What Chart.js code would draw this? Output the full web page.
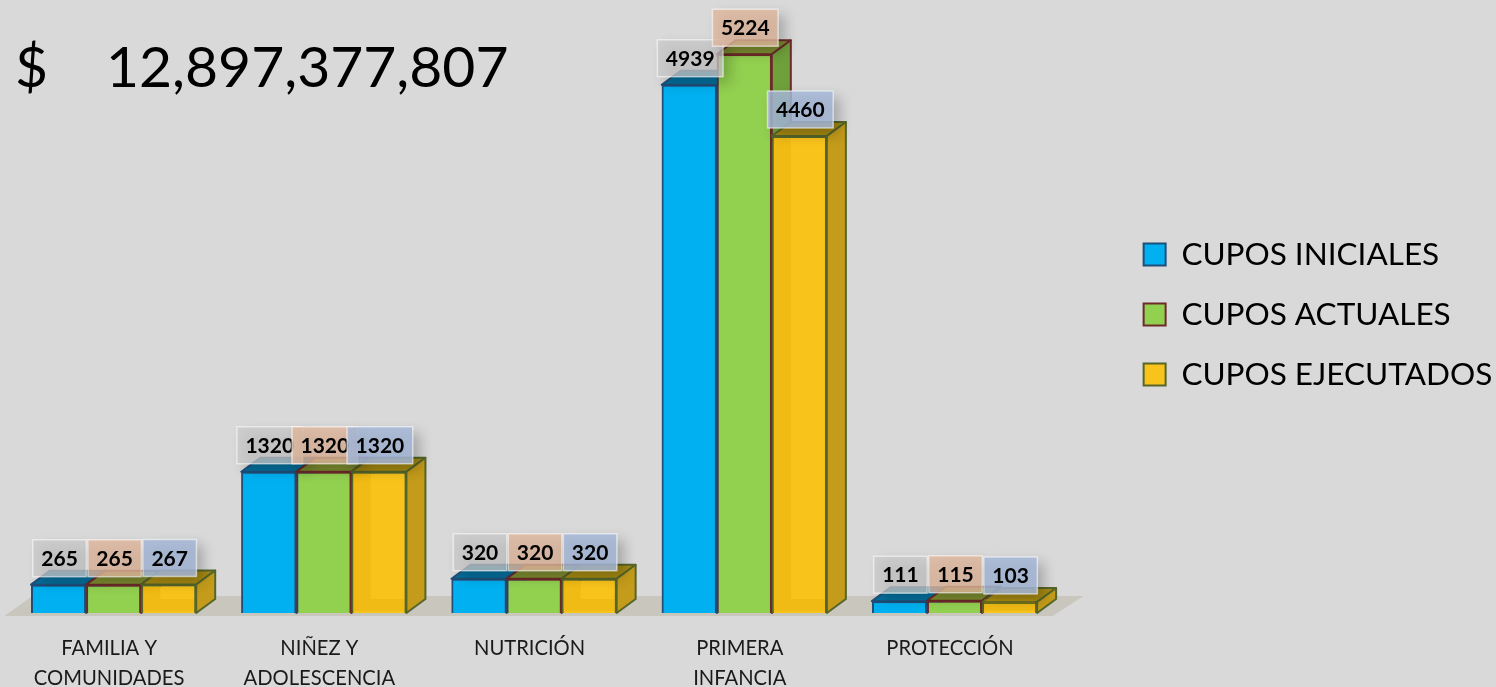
<!DOCTYPE html>
<html>
<head>
<meta charset="utf-8">
<title>Cupos</title>
<script src="https://cdn.jsdelivr.net/npm/chart.js@4"></script>
<style>
    html, body { margin: 0; padding: 0; background: #d9d9d9; overflow: hidden; }
    canvas { display: block; }
</style>
</head>
<body>
<canvas id="cuposChart" width="1496" height="687"></canvas>
<script>
const categories = [['FAMILIA Y', 'COMUNIDADES'], ['NIÑEZ Y', 'ADOLESCENCIA'], 'NUTRICIÓN', ['PRIMERA', 'INFANCIA'], 'PROTECCIÓN'];
const cuposIniciales = [265, 1320, 320, 4939, 111];
const cuposActuales = [265, 1320, 320, 5224, 115];
const cuposEjecutados = [267, 1320, 320, 4460, 103];
const totalCurrency = '$';
const totalAmount = '12,897,377,807';

const FONT = 'Lato, Carlito, sans-serif';
const DEPTH_X = 19;
const DEPTH_Y = 14;

// colours for the fake 3D faces and the value boxes, per series
const faces = [
    { top: '#046f9c', side: '#0a7fb0', label: 'rgba(200, 200, 200, 0.75)' },
    { top: '#7d8c2f', side: '#6fa03c', label: 'rgba(222, 182, 155, 0.8)' },
    { top: '#a68a12', side: '#c49b1a', label: 'rgba(165, 182, 214, 0.85)' }
];

function poly(ctx, pts, fill, stroke, width) {
    ctx.beginPath();
    pts.forEach((p, i) => i ? ctx.lineTo(p[0], p[1]) : ctx.moveTo(p[0], p[1]));
    ctx.closePath();
    if (fill) { ctx.fillStyle = fill; ctx.fill(); }
    if (stroke) { ctx.strokeStyle = stroke; ctx.lineWidth = width; ctx.lineJoin = 'round'; ctx.stroke(); }
}

// Floor, extruded bars, value boxes and the total
const bars3d = {
    id: 'bars3d',
    afterLayout(chart) {
        // the layout caps the legend width, so move it by hand
        chart.legend.left -= 9;
        chart.legend.top += 1;
        chart.legend.bottom += 1;
    },
    beforeDatasetsDraw(chart) {
        const { ctx, chartArea: a } = chart;
        poly(ctx, [[a.left - 4, a.bottom + 3], [a.left + 24, a.bottom - 17], [a.right + 24, a.bottom - 17], [a.right - 7, a.bottom + 3]], '#c9c6be');
    },
    afterDatasetsDraw(chart) {
        const ctx = chart.ctx;
        ctx.save();
        chart.data.datasets.forEach((ds, d) => {
            chart.getDatasetMeta(d).data.forEach(bar => {
                const l = bar.x - bar.width / 2, r = bar.x + bar.width / 2;
                poly(ctx, [[l, bar.y], [l + DEPTH_X, bar.y - DEPTH_Y], [r + DEPTH_X, bar.y - DEPTH_Y], [r, bar.y]], faces[d].top, ds.borderColor, 2);
                poly(ctx, [[r, bar.y], [r + DEPTH_X, bar.y - DEPTH_Y], [r + DEPTH_X, bar.base - DEPTH_Y], [r, bar.base]], faces[d].side, ds.borderColor, 2);
                bar.draw(ctx);
                if (d === 2) {
                    // back edges seen through the yellow bar
                    const innerTop = Math.min(bar.y + 2, bar.base - DEPTH_Y);
                    ctx.fillStyle = 'rgba(214, 160, 0, 0.22)';
                    ctx.fillRect(l + 2, innerTop, DEPTH_X - 2, bar.base - innerTop - 2);
                    ctx.fillRect(l + DEPTH_X, bar.base - DEPTH_Y, bar.width - DEPTH_X - 2, DEPTH_Y - 2);
                }
            });
        });

        ctx.font = 'bold 21px ' + FONT;
        ctx.textAlign = 'center';
        ctx.textBaseline = 'middle';
        chart.data.datasets.forEach((ds, d) => {
            chart.getDatasetMeta(d).data.forEach((bar, i) => {
                const text = String(ds.data[i]);
                const w = ctx.measureText(text).width + 17;
                const cx = bar.x + 1, cy = bar.y - 26.5;
                ctx.save();
                ctx.shadowColor = 'rgba(0, 0, 0, 0.28)';
                ctx.shadowBlur = 12;
                ctx.shadowOffsetX = 7;
                ctx.shadowOffsetY = 6;
                ctx.fillStyle = faces[d].label;
                ctx.fillRect(cx - w / 2, cy - 18.5, w, 37);
                ctx.restore();
                ctx.strokeStyle = 'rgba(255, 255, 255, 0.55)';
                ctx.lineWidth = 1.5;
                ctx.strokeRect(cx - w / 2, cy - 18.5, w, 37);
                ctx.fillStyle = '#000';
                ctx.fillText(text, cx, cy + 1);
            });
        });

        ctx.font = '57px ' + FONT;
        ctx.textAlign = 'left';
        ctx.fillStyle = '#000';
        ctx.fillText(totalCurrency, 15, 69);
        ctx.fillText(totalAmount, 106, 69);
        ctx.restore();
    }
};

new Chart(document.getElementById('cuposChart'), {
    type: 'bar',
    data: {
        labels: categories,
        datasets: [
            { label: 'CUPOS INICIALES', data: cuposIniciales, backgroundColor: '#00b0f0', borderColor: '#1f4e79' },
            { label: 'CUPOS ACTUALES', data: cuposActuales, backgroundColor: '#92d050', borderColor: '#6e2a2a' },
            { label: 'CUPOS EJECUTADOS', data: cuposEjecutados, backgroundColor: '#f8c31b', borderColor: '#56662a' }
        ]
    },
    options: {
        responsive: false,
        animation: false,
        layout: { padding: { left: 8.5, top: 14, right: 0, bottom: 0 } },
        datasets: { bar: { borderWidth: 2, categoryPercentage: 165 / 210, barPercentage: 1 } },
        plugins: {
            tooltip: { enabled: false },
            legend: {
                position: 'right',
                fullSize: false,
                labels: { boxWidth: 22, boxHeight: 22, padding: 28.5, color: '#000', font: { family: FONT, size: 31.5 } }
            }
        },
        scales: {
            x: {
                grid: { display: false },
                border: { display: false },
                afterFit: s => { s.height = 74; },
                ticks: { padding: 13, labelOffset: -4.5, maxRotation: 0, autoSkip: false, color: '#1a1a1a', font: { family: FONT, size: 20.2, lineHeight: 1.47 } }
            },
            y: { display: false, min: 0, max: 5600 },
            // empty axis, only keeps the gap between the bars and the legend
            gap: {
                position: 'right',
                grid: { display: false },
                border: { display: false },
                ticks: { display: false },
                afterFit: s => { s.width = 64.5; }
            }
        }
    },
    plugins: [bars3d]
});
</script>
</body>
</html>
